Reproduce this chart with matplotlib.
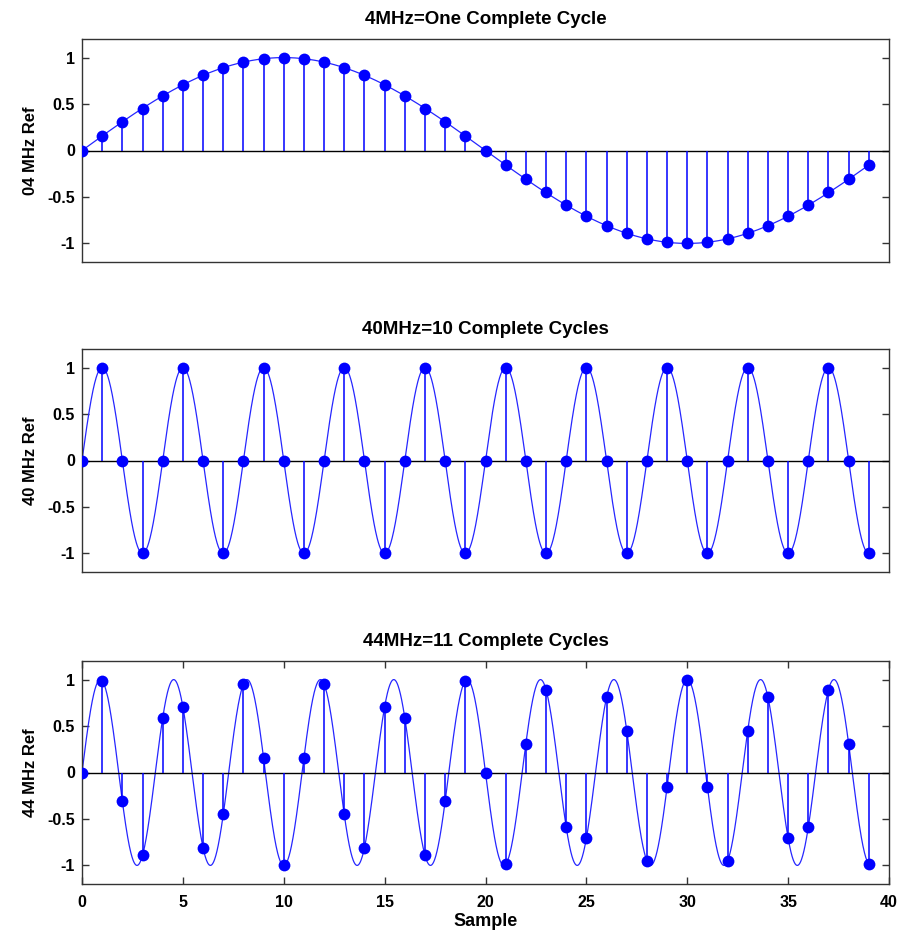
import numpy as np
import matplotlib
matplotlib.use("Agg")
import matplotlib.pyplot as plt

plt.rcParams['font.family'] = ['Liberation Sans', 'DejaVu Sans']

samples = list(range(40))

ref_04 = [0, 0.16, 0.31, 0.45, 0.59, 0.71, 0.81, 0.89, 0.95, 0.99,
          1.0, 0.99, 0.95, 0.89, 0.81, 0.71, 0.59, 0.45, 0.31, 0.16,
          0, -0.16, -0.31, -0.45, -0.59, -0.71, -0.81, -0.89, -0.95, -0.99,
          -1.0, -0.99, -0.95, -0.89, -0.81, -0.71, -0.59, -0.45, -0.31, -0.16]

ref_40 = [0, 1, 0, -1, 0, 1, 0, -1, 0, 1,
          0, -1, 0, 1, 0, -1, 0, 1, 0, -1,
          0, 1, 0, -1, 0, 1, 0, -1, 0, 1,
          0, -1, 0, 1, 0, -1, 0, 1, 0, -1]

ref_44 = [0, 0.99, -0.31, -0.89, 0.59, 0.71, -0.81, -0.45, 0.95, 0.16,
          -1.0, 0.16, 0.95, -0.45, -0.81, 0.71, 0.59, -0.89, -0.31, 0.99,
          0, -0.99, 0.31, 0.89, -0.59, -0.71, 0.81, 0.45, -0.95, -0.16,
          1.0, -0.16, -0.95, 0.45, 0.81, -0.71, -0.59, 0.89, 0.31, -0.99]

cycles = [1, 10, 11]
titles = ["4MHz=One Complete Cycle", "40MHz=10 Complete Cycles", "44MHz=11 Complete Cycles"]
ylabels = ["04 MHz Ref", "40 MHz Ref", "44 MHz Ref"]
series = [ref_04, ref_40, ref_44]
n_samples = 40

fig = plt.figure(figsize=(9.02, 9.31), dpi=100)
W, H = 902, 931
boxes = [(39, 262), (349, 572), (661, 884)]
left, right = 82, 889

for i, (y0, y1) in enumerate(boxes):
    ax = fig.add_axes([left / W, 1 - y1 / H, (right - left) / W, (y1 - y0) / H])
    t = np.linspace(0, samples[-1], 2000)
    curve = np.sin(2 * np.pi * cycles[i] * t / n_samples)
    ax.plot(t, curve, color=(0.15, 0.15, 1.0), lw=0.9, zorder=2)
    ax.axhline(0, color='black', lw=1.0, zorder=3)
    ax.vlines(samples, 0, series[i], color='blue', lw=1.1, zorder=3)
    ax.plot(samples, series[i], 'o', color='blue', markersize=8.5, zorder=4,
            markeredgewidth=0)
    ax.set_xlim(0, 40)
    ax.set_ylim(-1.2, 1.2)
    ax.set_yticks([-1, -0.5, 0, 0.5, 1])
    ax.set_yticklabels(['-1', '-0.5', '0', '0.5', '1'])
    ax.set_title(titles[i], fontsize=13.5, fontweight='bold', pad=11)
    ax.set_ylabel(ylabels[i], fontsize=12, fontweight='bold', labelpad=6.5)
    for sp in ax.spines.values():
        sp.set_color('#333333')
        sp.set_linewidth(1.0)
    ax.tick_params(direction='in', length=5, width=1, color='#333333',
                   labelsize=11.5, right=True, top=(i == 2))
    ax.tick_params(axis='y', pad=5)
    ax.tick_params(axis='x', pad=8)
    for lab in ax.get_yticklabels():
        lab.set_fontweight('bold')
    if i < 2:
        ax.set_xticks([])
    else:
        ax.set_xticks(range(0, 41, 5))
        for lab in ax.get_xticklabels():
            lab.set_fontweight('bold')
        ax.set_xlabel("Sample", fontsize=13, fontweight='bold', labelpad=2)

fig.savefig("out.png", dpi=100)
